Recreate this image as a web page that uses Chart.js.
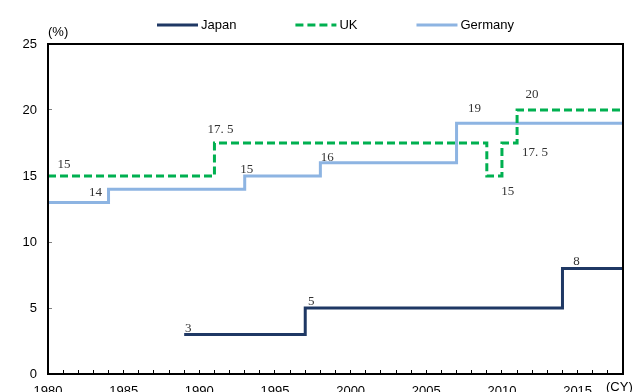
<!DOCTYPE html>
<html>
<head>
<meta charset="utf-8">
<script src="https://cdn.jsdelivr.net/npm/chart.js@4/dist/chart.umd.min.js"></script>
<style>
  html, body { margin: 0; padding: 0; background: #fff; overflow: hidden; }
  #wrap { width: 633px; height: 400px; }
</style>
</head>
<body>
<div id="wrap"><canvas id="myChart" width="633" height="400"></canvas></div>
<script>
// rate changes by year (%), the last rate runs to the end of the chart
const japanYears = [1989, 1997, 2014];
const japanRates = [3, 5, 8];
const ukYears = [1980, 1991, 2009, 2010, 2011];
const ukRates = [15, 17.5, 15, 17.5, 20];
const germanyYears = [1980, 1984, 1993, 1998, 2007];
const germanyRates = [13, 14, 15, 16, 19];
const startYear = 1980;
const endYear = 2018;
const xTickLabels = [1980, 1985, 1990, 1995, 2000, 2005, 2010, 2015];
const yTickLabels = [0, 5, 10, 15, 20, 25];

// where each value label sits relative to its step (null = no label)
const japanLabelPos = [[4, -6], [6, -6], [14, -7]];
const ukLabelPos = [[16, -11], [6, -13], [21, 16], [33, 10], [15, -15]];
const germanyLabelPos = [null, [-13, 3], [2, -6], [7, -5], [18, -15]];

const sans = "'Liberation Sans', Arial, sans-serif";
const serif = "'Liberation Serif', 'Times New Roman', serif";

function steps(years, rates) {
  let pts = years.map((y, i) => ({ x: y, y: rates[i] }));
  pts.push({ x: endYear, y: rates[rates.length - 1] });
  return pts;
}

function fmt(v) {
  //the source writes 17.5 as "17. 5"
  return v % 1 ? v.toFixed(1).replace(".", ". ") : String(v);
}

const extras = {
  id: "extras",
  afterDatasetsDraw(chart) {
    const ctx = chart.ctx;
    const area = chart.chartArea;
    ctx.save();

    //value labels
    ctx.font = "13px " + serif;
    ctx.fillStyle = "#333";
    ctx.textAlign = "center";
    ctx.textBaseline = "middle";
    chart.data.datasets.forEach((ds, di) => {
      const meta = chart.getDatasetMeta(di);
      ds.labelPos.forEach((p, i) => {
        if (!p) return;
        const pt = meta.data[i];
        ctx.fillText(fmt(ds.data[i].y), pt.x + p[0], pt.y + p[1]);
      });
    });

    //plot frame
    ctx.strokeStyle = "#000";
    ctx.lineWidth = 2;
    ctx.setLineDash([]);
    ctx.strokeRect(area.left, area.top, area.right - area.left, area.bottom - area.top);

    //unit texts
    ctx.font = "13px " + sans;
    ctx.fillStyle = "#000";
    ctx.textAlign = "left";
    ctx.fillText("(%)", area.left, 32);
    ctx.fillText("(CY)", 606, 387);

    //legend
    let x = 157;
    const y = 25;
    chart.data.datasets.forEach((ds) => {
      ctx.beginPath();
      ctx.strokeStyle = ds.borderColor;
      ctx.lineWidth = ds.borderWidth;
      ctx.setLineDash(ds.borderDash || []);
      ctx.moveTo(x, y);
      ctx.lineTo(x + 41, y);
      ctx.stroke();
      ctx.setLineDash([]);
      ctx.fillStyle = "#000";
      ctx.fillText(ds.label, x + 44, y);
      x += 44 + ctx.measureText(ds.label).width + 59;
    });
    ctx.restore();
  }
};

const ctx = document.getElementById("myChart").getContext("2d");
new Chart(ctx, {
  type: "line",
  data: {
    datasets: [
      {
        label: "Japan",
        data: steps(japanYears, japanRates),
        labelPos: japanLabelPos,
        borderColor: "#1F3864",
        borderWidth: 3
      },
      {
        label: "UK",
        data: steps(ukYears, ukRates),
        labelPos: ukLabelPos,
        borderColor: "#00B050",
        borderWidth: 3,
        borderDash: [8, 4]
      },
      {
        label: "Germany",
        data: steps(germanyYears, germanyRates),
        labelPos: germanyLabelPos,
        borderColor: "#8DB4E2",
        borderWidth: 3
      }
    ]
  },
  options: {
    responsive: false,
    animation: false,
    events: [],
    layout: { padding: { top: 44, right: 10, left: 0, bottom: 0 } },
    elements: {
      line: { stepped: true, fill: false, borderCapStyle: "butt", borderJoinStyle: "miter", tension: 0 },
      point: { radius: 0, hoverRadius: 0 }
    },
    plugins: {
      legend: { display: false },
      tooltip: { enabled: false }
    },
    scales: {
      x: {
        type: "linear",
        min: startYear,
        max: endYear,
        afterFit: (s) => { s.height = 26; s.paddingLeft = 0; s.paddingRight = 0; },
        border: { display: false },
        grid: { drawOnChartArea: false, tickLength: -4, tickColor: "#000", tickWidth: 1 },
        ticks: {
          stepSize: 1,
          autoSkip: false,
          maxRotation: 0,
          padding: 14,
          color: "#000",
          font: { family: sans, size: 13 },
          callback: (v) => (xTickLabels.includes(v) ? String(v) : "")
        }
      },
      y: {
        min: 0,
        max: 25,
        afterFit: (s) => { s.width = 48; },
        border: { display: false },
        grid: { drawOnChartArea: false, tickLength: -4, tickColor: "#808080", tickWidth: 1 },
        ticks: {
          stepSize: 5,
          padding: 15,
          color: "#000",
          font: { family: sans, size: 13 },
          callback: (v) => (yTickLabels.includes(v) ? String(v) : "")
        }
      }
    }
  },
  plugins: [extras]
});
</script>
</body>
</html>
